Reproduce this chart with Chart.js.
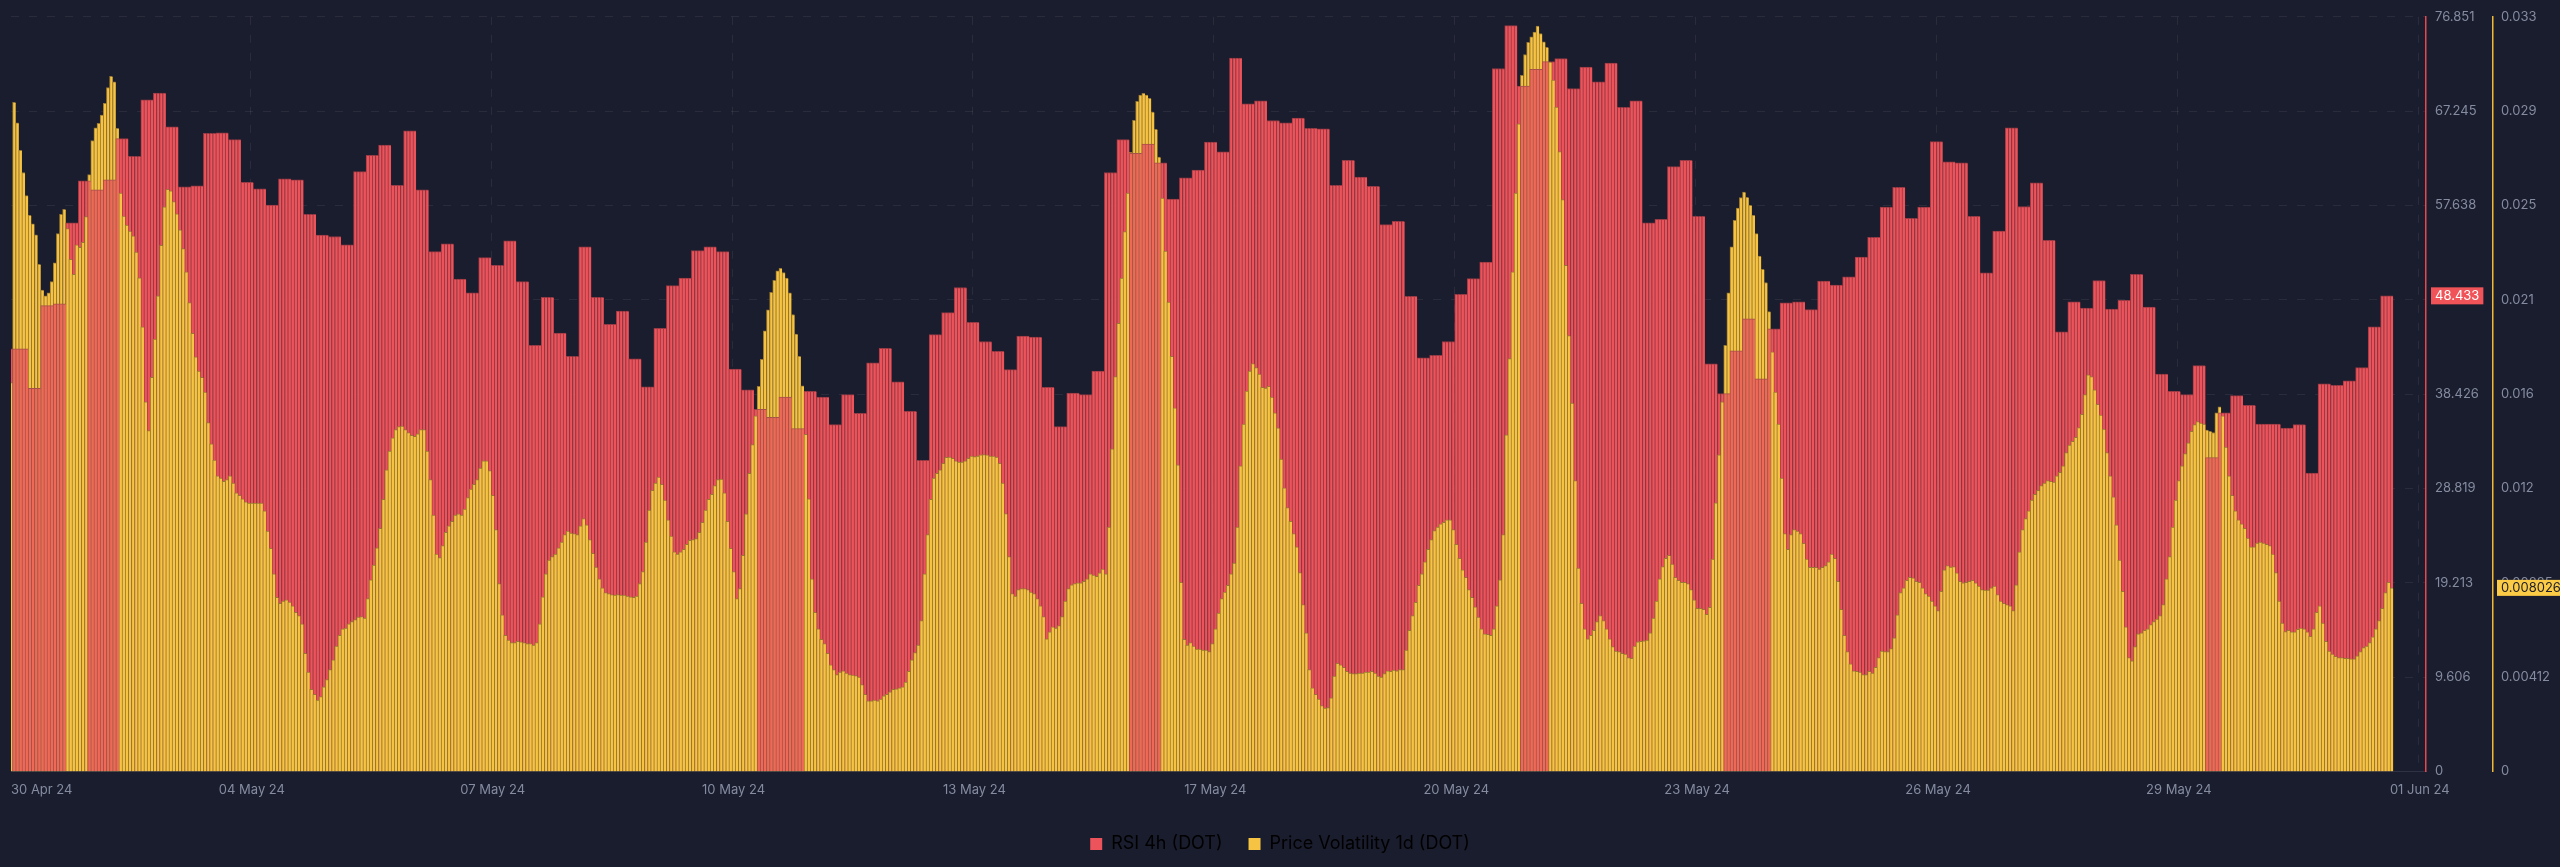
<!DOCTYPE html>
<html>
<head>
<meta charset="utf-8">
<script src="https://cdn.jsdelivr.net/npm/chart.js@4.4.1/dist/chart.umd.min.js"></script>
<style>
  html, body { margin: 0; padding: 0; background: #1a1d2d; }
  canvas { display: block; }
</style>
</head>
<body>
<canvas id="chart" width="2560" height="867"></canvas>
<script>
// RSI 4h (DOT), one value per 4h candle; first entry is the partial candle at the left edge
const rsi4h = [
  43.03, 43.03, 39.02, 47.43, 47.63, 55.88, 60.14, 59.24, 60.24, 64.44,
  62.64, 68.39, 69.09, 65.64, 59.54, 59.64, 64.99, 65.04, 64.34, 59.99,
  59.34, 57.68, 60.34, 60.24, 56.73, 54.63, 54.48, 53.63, 61.09, 62.74,
  63.79, 59.69, 65.24, 59.24, 52.93, 53.73, 50.13, 48.73, 52.33, 51.53,
  54.03, 49.88, 43.38, 48.28, 44.63, 42.28, 53.43, 48.28, 45.53, 46.88,
  42.03, 39.17, 45.13, 49.48, 50.23, 53.03, 53.43, 52.93, 40.97, 38.87,
  36.87, 36.07, 38.12, 34.92, 38.72, 38.12, 35.32, 38.37, 36.47, 41.62,
  43.08, 39.67, 36.67, 31.67, 44.48, 46.73, 49.28, 45.73, 43.78, 42.78,
  40.92, 44.33, 44.23, 39.12, 35.12, 38.52, 38.37, 40.77, 60.99, 64.34,
  62.94, 63.89, 61.99, 58.28, 60.44, 61.24, 64.09, 63.09, 72.64, 67.99,
  68.29, 66.29, 66.04, 66.54, 65.49, 65.44, 59.69, 62.24, 60.54, 59.59,
  55.68, 56.03, 48.38, 42.13, 42.38, 43.78, 48.58, 50.18, 51.88, 71.59,
  75.95, 69.79, 71.49, 72.29, 72.59, 69.54, 71.74, 70.24, 72.14, 67.64,
  68.29, 55.88, 56.23, 61.59, 62.24, 56.53, 41.52, 38.47, 42.83, 46.08,
  39.97, 45.08, 47.73, 47.83, 47.03, 49.93, 49.53, 50.38, 52.38, 54.38,
  57.48, 59.49, 56.33, 57.48, 64.14, 62.09, 61.99, 56.53, 50.78, 55.03,
  65.54, 57.53, 59.94, 54.08, 44.78, 47.83, 47.18, 49.98, 47.08, 47.98,
  50.63, 47.28, 40.47, 38.72, 38.37, 41.32, 31.97, 36.52, 38.27, 37.27,
  35.37, 35.37, 34.97, 35.32, 30.37, 39.47, 39.32, 39.77, 41.12, 45.28,
  48.433
];

// Price Volatility 1d (DOT), hourly
const volatility1d = [
  0.01700,
  0.02926, 0.02836, 0.02716, 0.02619, 0.02518, 0.02432, 0.02395, 0.02346, 0.02217, 0.02105,
  0.02080, 0.02093, 0.02142, 0.02224, 0.02352, 0.02436, 0.02458, 0.02374, 0.02239, 0.02174,
  0.02303, 0.02292, 0.02314, 0.02426, 0.02610, 0.02759, 0.02814, 0.02834, 0.02870, 0.02922,
  0.02991, 0.03040, 0.03016, 0.02812, 0.02529, 0.02428, 0.02389, 0.02363, 0.02342, 0.02271,
  0.02159, 0.01944, 0.01616, 0.01491, 0.01723, 0.01891, 0.02080, 0.02301, 0.02469, 0.02546,
  0.02539, 0.02492, 0.02438, 0.02368, 0.02286, 0.02185, 0.02050, 0.01916, 0.01813, 0.01751,
  0.01723, 0.01659, 0.01525, 0.01433, 0.01362, 0.01293, 0.01283, 0.01268, 0.01276, 0.01293,
  0.01261, 0.01218, 0.01207, 0.01192, 0.01179, 0.01173, 0.01173, 0.01173, 0.01173, 0.01173,
  0.01139, 0.01051, 0.00975, 0.00864, 0.00761, 0.00735, 0.00745, 0.00750, 0.00741, 0.00724,
  0.00696, 0.00681, 0.00645, 0.00516, 0.00434, 0.00359, 0.00337, 0.00312, 0.00327, 0.00370,
  0.00402, 0.00445, 0.00488, 0.00548, 0.00595, 0.00623, 0.00627, 0.00645, 0.00655, 0.00664,
  0.00675, 0.00677, 0.00670, 0.00756, 0.00838, 0.00902, 0.00978, 0.01063, 0.01190, 0.01319,
  0.01401, 0.01459, 0.01495, 0.01508, 0.01510, 0.01495, 0.01482, 0.01470, 0.01465, 0.01476,
  0.01495, 0.01495, 0.01401, 0.01276, 0.01121, 0.00950, 0.00935, 0.00988, 0.01046, 0.01074,
  0.01094, 0.01121, 0.01126, 0.01121, 0.01147, 0.01197, 0.01235, 0.01255, 0.01276, 0.01326,
  0.01358, 0.01358, 0.01315, 0.01207, 0.01057, 0.00821, 0.00685, 0.00595, 0.00574, 0.00563,
  0.00563, 0.00569, 0.00567, 0.00563, 0.00559, 0.00559, 0.00552, 0.00563, 0.00645, 0.00763,
  0.00864, 0.00924, 0.00939, 0.00950, 0.00978, 0.01003, 0.01036, 0.01051, 0.01042, 0.01040,
  0.01036, 0.01074, 0.01106, 0.01078, 0.01014, 0.00954, 0.00894, 0.00842, 0.00803, 0.00782,
  0.00778, 0.00773, 0.00771, 0.00773, 0.00771, 0.00771, 0.00767, 0.00763, 0.00761, 0.00767,
  0.00821, 0.00874, 0.01003, 0.01143, 0.01229, 0.01261, 0.01287, 0.01255, 0.01186, 0.01100,
  0.01029, 0.00960, 0.00950, 0.00960, 0.00971, 0.00993, 0.01010, 0.01014, 0.01018, 0.01046,
  0.01089, 0.01143, 0.01190, 0.01212, 0.01250, 0.01276, 0.01278, 0.01218, 0.01094, 0.00975,
  0.00874, 0.00756, 0.00799, 0.00945, 0.01126, 0.01304, 0.01429, 0.01555, 0.01684, 0.01802,
  0.01927, 0.02019, 0.02095, 0.02148, 0.02189, 0.02200, 0.02181, 0.02157, 0.02093, 0.01998,
  0.01912, 0.01815, 0.01686, 0.01474, 0.01192, 0.00842, 0.00696, 0.00623, 0.00578, 0.00559,
  0.00516, 0.00466, 0.00445, 0.00423, 0.00434, 0.00440, 0.00430, 0.00423, 0.00421, 0.00419,
  0.00412, 0.00380, 0.00337, 0.00309, 0.00309, 0.00312, 0.00309, 0.00316, 0.00331, 0.00337,
  0.00348, 0.00359, 0.00361, 0.00365, 0.00370, 0.00391, 0.00438, 0.00488, 0.00520, 0.00552,
  0.00660, 0.00864, 0.01036, 0.01190, 0.01283, 0.01304, 0.01319, 0.01347, 0.01373, 0.01375,
  0.01369, 0.01358, 0.01353, 0.01353, 0.01358, 0.01369, 0.01379, 0.01377, 0.01379, 0.01384,
  0.01386, 0.01384, 0.01379, 0.01379, 0.01375, 0.01347, 0.01261, 0.01128, 0.00939, 0.00778,
  0.00767, 0.00795, 0.00799, 0.00799, 0.00795, 0.00784, 0.00778, 0.00756, 0.00724, 0.00677,
  0.00580, 0.00610, 0.00632, 0.00627, 0.00638, 0.00677, 0.00745, 0.00799, 0.00816, 0.00821,
  0.00825, 0.00825, 0.00831, 0.00842, 0.00864, 0.00859, 0.00853, 0.00868, 0.00885, 0.00864,
  0.01068, 0.01411, 0.01727, 0.01959, 0.02157, 0.02361, 0.02529, 0.02707, 0.02847, 0.02930,
  0.02958, 0.02965, 0.02958, 0.02943, 0.02883, 0.02808, 0.02686, 0.02507, 0.02275, 0.02052,
  0.01815, 0.01590, 0.01341, 0.00827, 0.00578, 0.00552, 0.00563, 0.00548, 0.00535, 0.00535,
  0.00531, 0.00531, 0.00524, 0.00559, 0.00623, 0.00692, 0.00756, 0.00784, 0.00814, 0.00864,
  0.00911, 0.01068, 0.01336, 0.01519, 0.01663, 0.01751, 0.01783, 0.01766, 0.01738, 0.01680,
  0.01676, 0.01684, 0.01637, 0.01568, 0.01502, 0.01366, 0.01240, 0.01154, 0.01094, 0.01040,
  0.00982, 0.00870, 0.00730, 0.00606, 0.00445, 0.00365, 0.00337, 0.00316, 0.00288, 0.00277,
  0.00279, 0.00322, 0.00417, 0.00473, 0.00466, 0.00455, 0.00438, 0.00430, 0.00428, 0.00428,
  0.00430, 0.00430, 0.00434, 0.00434, 0.00438, 0.00430, 0.00417, 0.00412, 0.00428, 0.00440,
  0.00438, 0.00443, 0.00440, 0.00445, 0.00445, 0.00531, 0.00617, 0.00681, 0.00739, 0.00814,
  0.00864, 0.00917, 0.00971, 0.01014, 0.01053, 0.01068, 0.01083, 0.01089, 0.01100, 0.01100,
  0.01057, 0.00993, 0.00932, 0.00881, 0.00849, 0.00795, 0.00761, 0.00720, 0.00675, 0.00623,
  0.00602, 0.00599, 0.00595, 0.00623, 0.00724, 0.00838, 0.01036, 0.01472, 0.01805, 0.02185,
  0.02529, 0.02832, 0.03044, 0.03135, 0.03188, 0.03212, 0.03233, 0.03259, 0.03227, 0.03190,
  0.03167, 0.03102, 0.03023, 0.02905, 0.02711, 0.02501, 0.02213, 0.01906, 0.01611, 0.01272,
  0.00889, 0.00735, 0.00623, 0.00580, 0.00595, 0.00617, 0.00655, 0.00681, 0.00660, 0.00623,
  0.00580, 0.00546, 0.00526, 0.00524, 0.00516, 0.00513, 0.00498, 0.00494, 0.00548, 0.00567,
  0.00569, 0.00571, 0.00574, 0.00606, 0.00670, 0.00745, 0.00842, 0.00896, 0.00932, 0.00945,
  0.00907, 0.00849, 0.00836, 0.00827, 0.00827, 0.00821, 0.00795, 0.00750, 0.00713, 0.00713,
  0.00709, 0.00687, 0.00718, 0.00928, 0.01175, 0.01384, 0.01616, 0.01863, 0.02093, 0.02294,
  0.02410, 0.02464, 0.02509, 0.02533, 0.02511, 0.02475, 0.02432, 0.02352, 0.02254, 0.02196,
  0.02138, 0.02011, 0.01835, 0.01659, 0.01519, 0.01283, 0.01040, 0.00971, 0.01036, 0.01057,
  0.01051, 0.01040, 0.00997, 0.00928, 0.00892, 0.00892, 0.00892, 0.00885, 0.00892, 0.00900,
  0.00917, 0.00950, 0.00932, 0.00831, 0.00709, 0.00595, 0.00524, 0.00470, 0.00440, 0.00438,
  0.00434, 0.00423, 0.00423, 0.00438, 0.00430, 0.00455, 0.00498, 0.00526, 0.00524, 0.00524,
  0.00537, 0.00584, 0.00685, 0.00782, 0.00803, 0.00836, 0.00849, 0.00846, 0.00831, 0.00827,
  0.00803, 0.00778, 0.00767, 0.00745, 0.00724, 0.00703, 0.00788, 0.00881, 0.00900, 0.00894,
  0.00896, 0.00868, 0.00831, 0.00825, 0.00827, 0.00831, 0.00836, 0.00825, 0.00810, 0.00795,
  0.00793, 0.00793, 0.00803, 0.00810, 0.00773, 0.00745, 0.00735, 0.00730, 0.00724, 0.00703,
  0.00816, 0.00960, 0.01057, 0.01106, 0.01139, 0.01186, 0.01212, 0.01229, 0.01250, 0.01261,
  0.01272, 0.01268, 0.01265, 0.01293, 0.01308, 0.01336, 0.01394, 0.01427, 0.01444, 0.01461,
  0.01504, 0.01562, 0.01648, 0.01734, 0.01727, 0.01669, 0.01605, 0.01558, 0.01497, 0.01394,
  0.01293, 0.01201, 0.01078, 0.00924, 0.00788, 0.00632, 0.00498, 0.00483, 0.00546, 0.00602,
  0.00606, 0.00617, 0.00623, 0.00642, 0.00655, 0.00666, 0.00681, 0.00730, 0.00842, 0.00939,
  0.01068, 0.01186, 0.01272, 0.01336, 0.01390, 0.01437, 0.01487, 0.01517, 0.01530, 0.01523,
  0.01519, 0.01493, 0.01487, 0.01482, 0.01568, 0.01594, 0.01555, 0.01418, 0.01293, 0.01207,
  0.01139, 0.01100, 0.01083, 0.01063, 0.01020, 0.00982, 0.00982, 0.00999, 0.01003, 0.00999,
  0.00993, 0.00988, 0.00950, 0.00870, 0.00745, 0.00649, 0.00612, 0.00617, 0.00610, 0.00610,
  0.00621, 0.00627, 0.00623, 0.00610, 0.00591, 0.00623, 0.00696, 0.00724, 0.00649, 0.00569,
  0.00526, 0.00513, 0.00503, 0.00498, 0.00498, 0.00494, 0.00494, 0.00492, 0.00492, 0.00505,
  0.00524, 0.00541, 0.00548, 0.00563, 0.00589, 0.00623, 0.00660, 0.00713, 0.00782, 0.00827,
  0.008026
];

const xTickIndex = [0, 77, 154, 231, 308, 385, 462, 539, 616, 693, 770];
const xTickLabels = ['30 Apr 24', '04 May 24', '07 May 24', '10 May 24', '13 May 24', '17 May 24',
  '20 May 24', '23 May 24', '26 May 24', '29 May 24', '01 Jun 24'];

const rsiTicks = [0, 9.606, 19.213, 28.819, 38.426, 48.032, 57.638, 67.245, 76.851];
const rsiTickLabels = ['0', '9.606', '19.213', '28.819', '38.426', '48.032', '57.638', '67.245', '76.851'];
const volTicks = [0, 0.004125, 0.00825, 0.012375, 0.0165, 0.020625, 0.02475, 0.028875, 0.033];
const volTickLabels = ['0', '0.00412', '0.00825', '0.012', '0.016', '0.021', '0.025', '0.029', '0.033'];

const legendNames = ['RSI 4h (DOT)', 'Price Volatility 1d (DOT)'];

const RED = '#ec535a';
const RED_ON_YELLOW = '#ee6a57';
const YELLOW = '#f6c342';
const AXIS_RED = '#e8474f';
const AXIS_YELLOW = '#efb936';
const TICK_COLOR = '#858ca0';
const FONT = 'Inter, "Noto Sans", sans-serif';

const rsiMax = rsiTicks[rsiTicks.length - 1];
const volMax = volTicks[volTicks.length - 1];
const slotCount = 773;

const categories = Array.from({ length: slotCount }, (_, i) => i);
const rsiHourly = categories.map(i => i < volatility1d.length ? rsi4h[Math.floor((i + 2) / 4)] : null);
const volHourly = categories.map(i => i < volatility1d.length ? volatility1d[i] : null);

// the shorter of the two bars is drawn in front
const redFront = [], yellowFront = [], redBack = [], yellowBack = [];
categories.forEach(i => {
  const r = rsiHourly[i], v = volHourly[i];
  if (r === null) {
    redFront.push(null); yellowFront.push(null); redBack.push(null); yellowBack.push(null);
    return;
  }
  if (r / rsiMax <= v / volMax) {
    redFront.push(r); yellowBack.push(v); redBack.push(null); yellowFront.push(null);
  } else {
    yellowFront.push(v); redBack.push(r); redFront.push(null); yellowBack.push(null);
  }
});

const barBase = {
  type: 'bar',
  grouped: false,
  barPercentage: 1,
  categoryPercentage: 1,
  borderWidth: { left: 1, top: 1, right: 0, bottom: 0 },
  borderSkipped: false
};

const lastValues = {
  id: 'lastValues',
  afterDraw(chart) {
    const ctx = chart.ctx;
    const yR = chart.scales.y, yV = chart.scales.yVol;
    ctx.save();
    ctx.font = '13px ' + FONT;
    ctx.textBaseline = 'middle';
    ctx.textAlign = 'left';

    const rTxt = String(rsi4h[rsi4h.length - 1]);
    let py = yR.getPixelForValue(rsi4h[rsi4h.length - 1]);
    let w = ctx.measureText(rTxt).width + 8;
    ctx.fillStyle = '#f05459';
    ctx.fillRect(yR.left + 5, py - 8.5, w, 17);
    ctx.fillStyle = '#ffffff';
    ctx.fillText(rTxt, yR.left + 9, py + 0.5);

    const vTxt = String(volatility1d[volatility1d.length - 1]);
    py = yV.getPixelForValue(volatility1d[volatility1d.length - 1]);
    w = ctx.measureText(vTxt).width + 8;
    ctx.fillStyle = '#fccb46';
    ctx.fillRect(yV.left + 4, py - 8, w, 16);
    ctx.fillStyle = '#1a1d2d';
    ctx.fillText(vTxt, yV.left + 8, py + 0.5);
    ctx.restore();
  }
};

new Chart(document.getElementById('chart').getContext('2d'), {
  data: {
    labels: categories,
    datasets: [
      Object.assign({}, barBase, { label: 'rsiFront', data: redFront, yAxisID: 'y', backgroundColor: RED_ON_YELLOW, borderColor: '#a8504a' }),
      Object.assign({}, barBase, { label: 'volFront', data: yellowFront, yAxisID: 'yVol', backgroundColor: YELLOW, borderColor: '#9a7a32' }),
      Object.assign({}, barBase, { label: 'rsiBack', data: redBack, yAxisID: 'y', backgroundColor: RED, borderColor: '#9a3a44' }),
      Object.assign({}, barBase, { label: 'volBack', data: yellowBack, yAxisID: 'yVol', backgroundColor: YELLOW, borderColor: '#9a7a32' })
    ]
  },
  options: {
    responsive: false,
    animation: false,
    layout: { padding: { top: 0, bottom: 4 } },
    plugins: {
      tooltip: { enabled: false },
      legend: {
        position: 'bottom',
        labels: {
          color: '#e6e8ee',
          font: { family: FONT, size: 18 },
          boxWidth: 12,
          boxHeight: 12,
          padding: 26,
          generateLabels: () => legendNames.map((t, i) => ({
            text: t,
            fillStyle: i === 0 ? RED : YELLOW,
            strokeStyle: i === 0 ? RED : YELLOW,
            lineWidth: 0,
            hidden: false,
            datasetIndex: i
          }))
        }
      }
    },
    scales: {
      x: {
        type: 'category',
        offset: false,
        grid: {
          color: c => (c.index > 0 && xTickIndex.includes(c.index)) ? 'rgba(255,255,255,0.07)' : 'transparent',
          drawTicks: false
        },
        border: { color: '#2e3244', width: 1, dash: [8, 10] },
        ticks: {
          autoSkip: false,
          maxRotation: 0,
          minRotation: 0,
          align: 'inner',
          padding: 11,
          color: TICK_COLOR,
          font: { family: FONT, size: 13 },
          callback: (value, index) => {
            const k = xTickIndex.indexOf(index);
            return k >= 0 ? xTickLabels[k] : '';
          }
        }
      },
      y: {
        position: 'right',
        weight: 0,
        min: 0,
        max: rsiMax,
        afterBuildTicks: axis => { axis.ticks = rsiTicks.map(v => ({ value: v })); },
        afterFit: axis => { axis.width = 67; },
        grid: { color: 'rgba(255,255,255,0.07)', drawTicks: false },
        border: { color: AXIS_RED, width: 1.5, dash: [8, 10] },
        ticks: {
          padding: 9,
          color: TICK_COLOR,
          font: { family: FONT, size: 13 },
          callback: (value, index) => rsiTickLabels[index]
        }
      },
      yVol: {
        position: 'right',
        weight: 1,
        min: 0,
        max: volMax,
        afterBuildTicks: axis => { axis.ticks = volTicks.map(v => ({ value: v })); },
        afterFit: axis => { axis.width = 67; },
        grid: { display: false, drawTicks: false },
        border: { color: AXIS_YELLOW, width: 1.5 },
        ticks: {
          padding: 8,
          color: TICK_COLOR,
          font: { family: FONT, size: 13 },
          callback: (value, index) => volTickLabels[index]
        }
      }
    }
  },
  plugins: [lastValues]
});
</script>
</body>
</html>
